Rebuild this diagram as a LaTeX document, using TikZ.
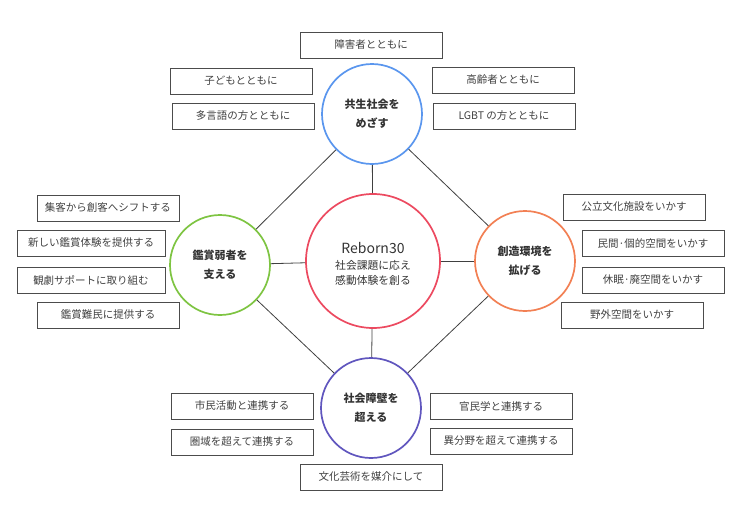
\documentclass[tikz,border=0pt]{standalone}
\usepackage{fontspec}
\setmainfont{Noto Sans CJK JP}
\usepackage{tikz}
\usetikzlibrary{positioning}
\tikzset{>=latex}
\definecolor{ringblue}{RGB}{90,150,238}
\definecolor{ringred}{RGB}{236,74,96}
\definecolor{ringgreen}{RGB}{126,196,66}
\definecolor{ringorange}{RGB}{242,128,84}
\definecolor{ringpurple}{RGB}{96,86,190}
\tikzset{
  goal/.style={draw, circle, line width=1.7pt, minimum size=100pt, inner sep=0pt, align=center, text=black!80, font=\bfseries\fontsize{11}{19}\selectfont},
  item/.style={draw=black!70, line width=0.9pt, minimum width=142pt, minimum height=26pt, inner sep=0pt, text=black!75, font=\fontsize{10.5}{12}\selectfont},
  link/.style={draw=black!75, line width=0.8pt}
}

\begin{document}
\begin{tikzpicture}[x=1pt, y=-1pt]
    \useasboundingbox (0,0) rectangle (740,520);
    \node [goal, draw=ringred, minimum size=134pt, font=\fontsize{10.8}{16}\selectfont](core) at (373,261){};
    \node [align=center, text=black!80, font=\fontsize{10.8}{15.5}\selectfont](coretext) at (373,264){{\fontsize{14}{16}\selectfont Reborn30}\\社会課題に応え\\感動体験を創る};
    \node [goal, draw=ringblue](kyosei) at (372,114){共生社会を\\めざす};
    \node [goal, draw=ringgreen](kansho) at (220,265){鑑賞弱者を\\支える};
    \node [goal, draw=ringorange](sozo) at (525,261){創造環境を\\拡げる};
    \node [goal, draw=ringpurple](shakai) at (371,408){社会障壁を\\超える};
    \draw [link] (core) -- (kyosei);
    \draw [link] (core) -- (kansho);
    \draw [link] (core) -- (sozo);
    \draw [link] (core) -- (shakai);
    \draw [link] (kyosei) -- (kansho) -- (shakai) -- (sozo) -- (kyosei);
    \node [item](k1) at (371,45){障害者とともに};
    \node [item](k2) at (241,81){子どもとともに};
    \node [item](k3) at (243,116){多言語の方とともに};
    \node [item](k4) at (503,80){高齢者とともに};
    \node [item](k5) at (504,116){LGBT の方とともに};
    \node [item](a1) at (108,208){集客から創客へシフトする};
    \node [item, minimum width=148pt](a2) at (91,243){新しい鑑賞体験を提供する};
    \node [item, minimum width=148pt](a3) at (91,280){観劇サポートに取り組む};
    \node [item](a4) at (108,315){鑑賞難民に提供する};
    \node [item](s1) at (634,207){公立文化施設をいかす};
    \node [item](s2) at (653,243){民間·個的空間をいかす};
    \node [item](s3) at (653,280){休眠·廃空間をいかす};
    \node [item](s4) at (632,315){野外空間をいかす};
    \node [item](b1) at (242,406){市民活動と連携する};
    \node [item](b2) at (242,442){圏域を超えて連携する};
    \node [item](b3) at (501,406){官民学と連携する};
    \node [item](b4) at (501,441){異分野を超えて連携する};
    \node [item](b5) at (371,477){文化芸術を媒介にして};
  \end{tikzpicture}
\end{document}
